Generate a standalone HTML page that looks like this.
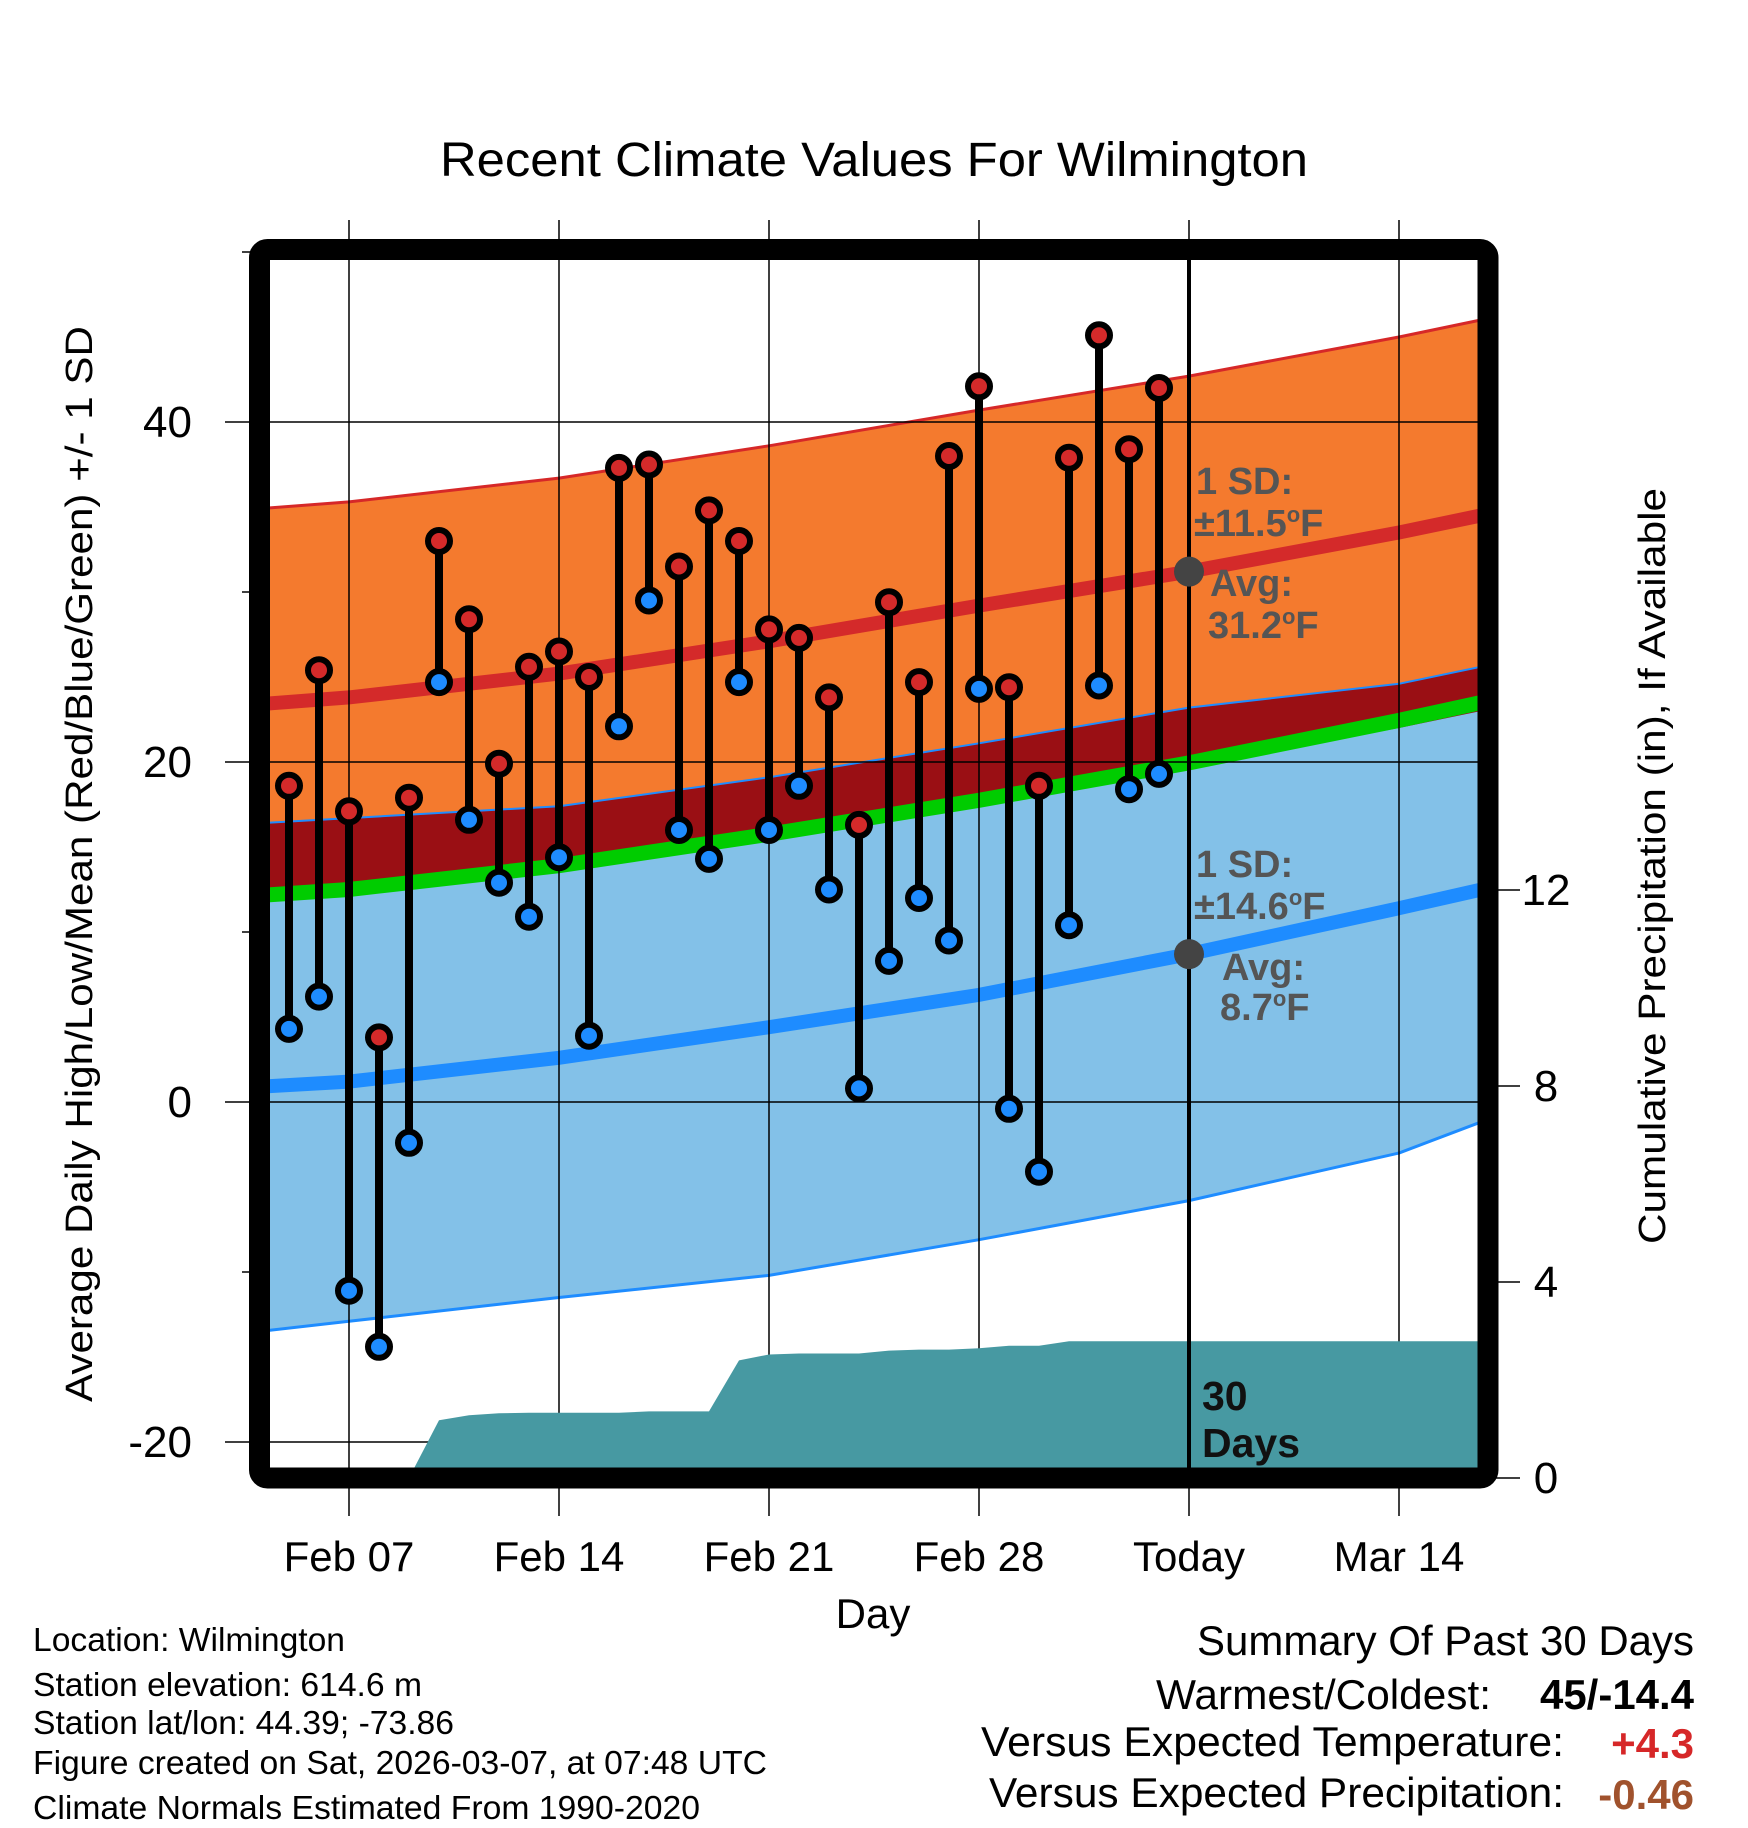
<!DOCTYPE html>
<html><head><meta charset="utf-8"><style>
html,body{margin:0;padding:0;background:#fff}
svg{display:block}
text{font-family:"Liberation Sans",Arial,sans-serif}
</style></head><body>
<svg id="chart" width="1748" height="1828" viewBox="0 0 1748 1828" xmlns="http://www.w3.org/2000/svg">
<defs><clipPath id="plotclip"><rect x="270" y="260" width="1208" height="1208"/></clipPath></defs>
<g id="layers" clip-path="url(#plotclip)"></g>
<g id="over"></g>
<text x="874" y="176" font-size="48" text-anchor="middle" textLength="868" lengthAdjust="spacingAndGlyphs">Recent Climate Values For Wilmington</text>
<text transform="translate(92,864) rotate(-90)" font-size="38" text-anchor="middle" textLength="1076" lengthAdjust="spacingAndGlyphs">Average Daily High/Low/Mean (Red/Blue/Green) +/- 1 SD</text>
<text transform="translate(1665,866) rotate(-90)" font-size="38" text-anchor="middle" textLength="756" lengthAdjust="spacingAndGlyphs">Cumulative Precipitation (in), If Available</text>
<text x="873" y="1628" font-size="42" text-anchor="middle">Day</text>
<g font-size="33.5">
<text x="33" y="1651" textLength="312" lengthAdjust="spacingAndGlyphs">Location: Wilmington</text>
<text x="33" y="1696" textLength="389" lengthAdjust="spacingAndGlyphs">Station elevation: 614.6 m</text>
<text x="33" y="1734" textLength="421" lengthAdjust="spacingAndGlyphs">Station lat/lon: 44.39; -73.86</text>
<text x="33" y="1774" textLength="734" lengthAdjust="spacingAndGlyphs">Figure created on Sat, 2026-03-07, at 07:48 UTC</text>
<text x="33" y="1819" textLength="667" lengthAdjust="spacingAndGlyphs">Climate Normals Estimated From 1990-2020</text>
</g>
<g font-size="42" text-anchor="end">
<text x="1694" y="1655" textLength="497" lengthAdjust="spacingAndGlyphs">Summary Of Past 30 Days</text>
<text x="1491" y="1709" textLength="335" lengthAdjust="spacingAndGlyphs">Warmest/Coldest:</text>
<text x="1694" y="1709" font-weight="bold" textLength="154" lengthAdjust="spacingAndGlyphs">45/-14.4</text>
<text x="1564" y="1756" textLength="583" lengthAdjust="spacingAndGlyphs">Versus Expected Temperature:</text>
<text x="1694" y="1758" font-weight="bold" fill="#d62728">+4.3</text>
<text x="1564" y="1807" textLength="575" lengthAdjust="spacingAndGlyphs">Versus Expected Precipitation:</text>
<text x="1694" y="1809" font-weight="bold" fill="#a0522d">-0.46</text>
</g>
</svg>
<script>
// Data
const dayLabels=["Feb 07","Feb 14","Feb 21","Feb 28","Today","Mar 14"];
const dayTicks=[6,13,20,27,34,41];
const tempTicks=[-20,0,20,40];
const minorTempTicks=[-10,10,30,50];
const precipTicks=[0,4,8,12];
const normDays=[3,6,13,20,27,34,41,44];
const avgHigh=[23.4,23.8,25.2,27.1,29.2,31.2,33.5,34.6];
const avgLow=[0.9,1.2,2.6,4.4,6.3,8.7,11.4,12.6];
const lowUpper=[16.4,16.7,17.4,19.1,21.1,23.2,24.6,25.7];
const lowLower=[-13.5,-12.9,-11.5,-10.2,-8.1,-5.8,-3.0,-1.0];
const sdHigh=11.5;
const obsDays=[4,5,6,7,8,9,10,11,12,13,14,15,16,17,18,19,20,21,22,23,24,25,26,27,28,29,30,31,32,33];
const highs=[18.6,25.4,17.1,3.8,17.9,33.0,28.4,19.9,25.6,26.5,25.0,37.3,37.5,31.5,34.8,33.0,27.8,27.3,23.8,16.3,29.4,24.7,38.0,42.1,24.4,18.6,37.9,45.1,38.4,42.0];
const lows=[4.3,6.2,-11.1,-14.4,-2.4,24.7,16.6,12.9,10.9,14.4,3.9,22.1,29.5,16.0,14.3,24.7,16.0,18.6,12.5,0.8,8.3,12.0,9.5,24.3,-0.4,-4.1,10.4,24.5,18.4,19.3];
const precipDays=[4,5,6,7,8,9,10,11,12,13,14,15,16,17,18,19,20,21,22,23,24,25,26,27,28,29,30,31,32,33,34];
const precip=[0,0,0,0,0,1.18,1.28,1.32,1.33,1.33,1.33,1.33,1.36,1.36,1.36,2.40,2.52,2.54,2.54,2.54,2.60,2.62,2.62,2.65,2.70,2.70,2.79,2.79,2.79,2.79,2.79];
const todayDay=34;
const todayHigh=31.2, todayLow=8.7;

const X=d=>349+(d-6)*30;
const Y=t=>1102-17*t;
const P=p=>1478-49*p;
const NS="http://www.w3.org/2000/svg";
const layers=document.getElementById('layers');
const over=document.getElementById('over');
function mk(tag,attrs,parent){const e=document.createElementNS(NS,tag);for(const k in attrs)e.setAttribute(k,attrs[k]);parent.appendChild(e);return e;}
function pts(days,vals,f){return days.map((d,i)=>X(d).toFixed(1)+','+f(vals[i]).toFixed(1));}

const hiUp=avgHigh.map(v=>v+sdHigh), hiLo=avgHigh.map(v=>v-sdHigh);
const loUp=lowUpper, loLo=lowLower;
const mean=avgHigh.map((v,i)=>(v+avgLow[i])/2);
const rev=a=>a.slice().reverse();

let e;
e=mk('polygon',{points:pts(normDays,hiUp,Y).concat(rev(pts(normDays,hiLo,Y))).join(' '),fill:'#f47a2e'},layers);


e=mk('polygon',{points:pts(normDays,loUp,Y).concat(rev(pts(normDays,loLo,Y))).join(' '),fill:'#83c1e8'},layers);


e=mk('polygon',{points:pts(normDays,loUp,Y).concat(rev(pts(normDays,hiLo,Y))).join(' '),fill:'#9a0f14'},layers);


e=mk('polyline',{points:pts(normDays,hiUp,Y).join(' '),fill:'none',stroke:'#d62828','stroke-width':3},layers);


e=mk('polyline',{points:pts(normDays,loUp,Y).join(' '),fill:'none',stroke:'#1e8cff','stroke-width':2},layers);


e=mk('polyline',{points:pts(normDays,loLo,Y).join(' '),fill:'none',stroke:'#1e8cff','stroke-width':3},layers);


e=mk('polyline',{points:pts(normDays,mean,Y).join(' '),fill:'none',stroke:'#00cc00','stroke-width':15},layers);


e=mk('polyline',{points:pts(normDays,avgHigh,Y).join(' '),fill:'none',stroke:'#d42a2a','stroke-width':14},layers);


e=mk('polyline',{points:pts(normDays,avgLow,Y).join(' '),fill:'none',stroke:'#1e8cff','stroke-width':14},layers);



// grid
dayTicks.forEach((d,i)=>{
  const g=mk('line',{x1:X(d),x2:X(d),y1:220,y2:1516,stroke:'#000','stroke-width':1.5},over);
  
  
  const t=mk('text',{x:X(d),y:1571,'font-size':42,'text-anchor':'middle'},over);
  t.textContent=dayLabels[i];
  
  
});
tempTicks.forEach(v=>{
  const g=mk('line',{x1:225,x2:1478,y1:Y(v),y2:Y(v),stroke:'#000','stroke-width':1.5},over);
  
  
  const t=mk('text',{x:192,y:Y(v)+15,'font-size':44,'text-anchor':'end'},over);
  t.textContent=v;
  
  
});
minorTempTicks.forEach(v=>{
  const g=mk('line',{x1:242,x2:260,y1:Y(v),y2:Y(v),stroke:'#000','stroke-width':1.5},over);
  
  
});
precipTicks.forEach(v=>{
  const g=mk('line',{x1:1488,x2:1520,y1:P(v),y2:P(v),stroke:'#000','stroke-width':1.5},over);
  
  
  const t=mk('text',{x:1546,y:P(v)+15,'font-size':44,'text-anchor':'middle'},over);
  t.textContent=v;
  
  
});

// precip area
const pp=pts(precipDays,precip,P);
pp.push(X(45)+','+P(precip[precip.length-1]));
pp.push(X(45)+','+P(0));
pp.unshift(X(precipDays[0])+','+P(0));
const pc=document.createElementNS(NS,'g');pc.setAttribute('clip-path','url(#plotclip)');over.appendChild(pc);
e=mk('polygon',{points:pp.join(' '),fill:'#4799a2'},pc);



// today line
e=mk('line',{x1:X(todayDay),x2:X(todayDay),y1:260,y2:1468,stroke:'#000','stroke-width':4},over);



// annotations
function txt(x,y,s,name,col,size){const t=mk('text',{x:x,y:y,'font-size':size||38,'font-weight':'bold',fill:col||'#555'},over);t.innerHTML=s;return t;}
const deg='<tspan dy="-14" font-size="22">o</tspan><tspan dy="14">F</tspan>';
txt(1196,494,'1 SD:','high-sd-label');
txt(1194,536,'±11.5'+deg,'high-sd-value');
txt(1210,596,'Avg:','high-avg-label');
txt(1208,638,'31.2'+deg,'high-avg-value');
txt(1196,877,'1 SD:','low-sd-label');
txt(1194,919,'±14.6'+deg,'low-sd-value');
txt(1222,980,'Avg:','low-avg-label');
txt(1220,1020,'8.7'+deg,'low-avg-value');
txt(1202,1410,'30','days-label-1','#111',41);
txt(1202,1457,'Days','days-label-2','#111',41);
e=mk('circle',{cx:X(todayDay),cy:Y(todayHigh),r:15,fill:'#444'},over);


e=mk('circle',{cx:X(todayDay),cy:Y(todayLow),r:15,fill:'#444'},over);



// observations
obsDays.forEach((d,i)=>{
  const s=mk('line',{x1:X(d),x2:X(d),y1:Y(highs[i]),y2:Y(lows[i]),stroke:'#000','stroke-width':8},over);
  
  
});
obsDays.forEach((d,i)=>{
  const h=mk('circle',{cx:X(d),cy:Y(highs[i]),r:11,fill:'#d42a2a',stroke:'#000','stroke-width':6},over);
  
  
  const l=mk('circle',{cx:X(d),cy:Y(lows[i]),r:11,fill:'#1e8cff',stroke:'#000','stroke-width':6},over);
  
  
});

// frame
e=mk('rect',{x:259.5,y:249.5,width:1228.5,height:1228.5,rx:8,fill:'none',stroke:'#000','stroke-width':21},over);


</script>
</body></html>
